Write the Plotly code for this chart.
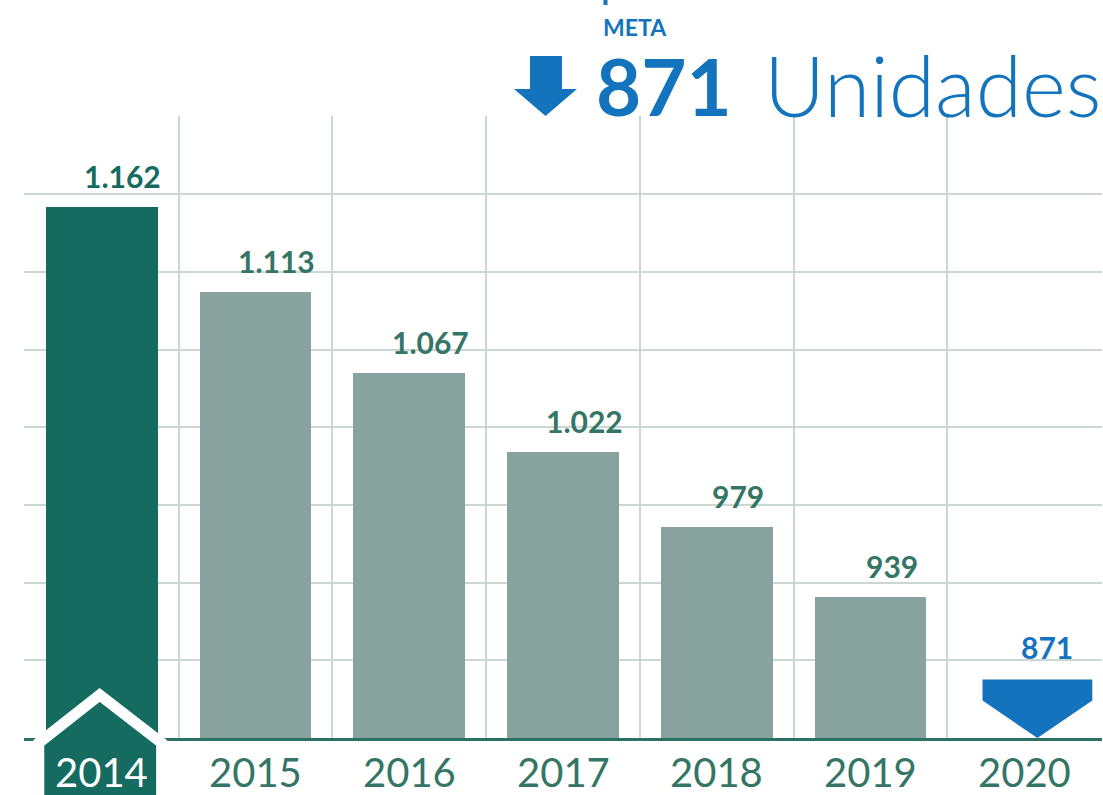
import plotly.graph_objects as go

# ---------------- data ----------------
years = ["2014", "2015", "2016", "2017", "2018", "2019", "2020"]
actual_values = [1162, 1113, 1067, 1022, 979, 939]   # 2014-2019
target_value = 871                                     # meta 2020
title_small = "META"
title_number = "871"
title_unit = "Unidades"

# ---------------- style ----------------
DARK = "#156b5f"
GRAY = "#88a39e"
LABEL = "#347566"
BLUE = "#1473bd"
GRID = "#cbd7d3"
FONT = "Lato"

W, H = 1103, 795
L, R, T, B = 24, 1, 116, 57
PW, PH = W - L - R, H - T - B

y_base = 858.6
y_step = 44.35
n_steps = 8
bar_w = 0.727


def fmt(v):
    return f"{v:,}".replace(",", ".")


def ppx(p):
    return (p - L) / PW


def ppy(p):
    return (H - B - p) / PH


fig = go.Figure()

xs = list(range(len(actual_values)))
colors = [DARK] + [GRAY] * (len(actual_values) - 1)
fig.add_trace(go.Bar(x=xs, y=actual_values, width=bar_w, marker=dict(color=colors, line=dict(width=0)),
                     hoverinfo="skip", showlegend=False))

# target marker (pentagon pointing down) for 2020
ti = len(years) - 1
off = 0.085
hw = 0.357
top = target_value + 21
mid = target_value + 9
fig.add_trace(go.Scatter(
    x=[ti + off - hw, ti + off + hw, ti + off + hw, ti + off, ti + off - hw, ti + off - hw],
    y=[top, top, mid, y_base, mid, top],
    fill="toself", fillcolor=BLUE, mode="lines", line=dict(width=0, color=BLUE),
    hoverinfo="skip", showlegend=False))

annotations = []
# value labels
for i, v in enumerate(actual_values):
    annotations.append(dict(x=i, y=v, xref="x", yref="y", text=f"<b>{fmt(v)}</b>", showarrow=False,
                            xanchor="center", yanchor="bottom", xshift=21, yshift=11,
                            font=dict(family=FONT, size=30, color=DARK if i == 0 else LABEL)))
annotations.append(dict(x=ti, y=top, xref="x", yref="y", text=f"<b>{fmt(target_value)}</b>", showarrow=False,
                        xanchor="center", yanchor="bottom", xshift=23, yshift=13,
                        font=dict(family=FONT, size=30, color=BLUE)))
# year labels
for i, yr in enumerate(years):
    annotations.append(dict(x=i, y=ppy(772), xref="x", yref="paper", text=yr, showarrow=False,
                            xanchor="center", yanchor="middle",
                            font=dict(family=FONT, size=40, color="white" if i == 0 else LABEL)))

# title
annotations.append(dict(x=ppx(601), y=ppy(27), xref="paper", yref="paper", text=f"<b>{title_small}</b>",
                        showarrow=False, xanchor="left", yanchor="middle",
                        font=dict(family=FONT, size=23, color=BLUE)))
annotations.append(dict(x=ppx(594), y=ppy(86), xref="paper", yref="paper", text=f"<b>{title_number}</b>",
                        showarrow=False, xanchor="left", yanchor="middle",
                        font=dict(family=FONT, size=78, color=BLUE)))
annotations.append(dict(x=ppx(762), y=ppy(85), xref="paper", yref="paper", text=title_unit,
                        showarrow=False, xanchor="left", yanchor="middle",
                        font=dict(family=FONT, size=84, color=BLUE, weight=300)))

shapes = []
# house-shaped label box for 2014
bot = ppy(815)
shapes.append(dict(type="path", xref="x", yref="paper", layer="above",
                   path=(f"M -0.409,{bot} L -0.409,{ppy(743)} L -0.013,{ppy(695)} "
                         f"L 0.39,{ppy(743)} L 0.39,{bot} Z"),
                   fillcolor=DARK, line=dict(color="white", width=11)))
# arrow
ax = lambda p: ppx(p)
ay = lambda p: ppy(p)
shapes.append(dict(type="path", xref="paper", yref="paper", layer="above",
                   path=(f"M {ax(530)},{ay(56)} L {ax(562)},{ay(56)} L {ax(562)},{ay(89)} L {ax(577)},{ay(89)} "
                         f"L {ax(545.5)},{ay(116)} L {ax(514)},{ay(89)} L {ax(530)},{ay(89)} Z"),
                   fillcolor=BLUE, line=dict(width=0)))
# small cut-off mark at top
shapes.append(dict(type="rect", xref="paper", yref="paper", layer="above",
                   x0=ax(603.5), x1=ax(607.5), y0=ay(5), y1=ay(0) + 0.01,
                   fillcolor=BLUE, line=dict(width=0)))

fig.update_layout(
    width=W, height=H, autosize=False,
    margin=dict(l=L, r=R, t=T, b=B, pad=0),
    paper_bgcolor="white", plot_bgcolor="white",
    bargap=0, showlegend=False,
    annotations=annotations, shapes=shapes,
    xaxis=dict(range=[-0.505, len(years) - 0.495], tickmode="array",
               tickvals=[k - 0.5 for k in range(len(years) + 1)],
               showticklabels=False, ticks="", showgrid=True, gridcolor=GRID, gridwidth=2,
               zeroline=False, showline=True, linecolor="#2d7064", linewidth=3, fixedrange=True),
    yaxis=dict(range=[y_base, y_base + n_steps * y_step + 0.3], tickmode="array",
               tickvals=[y_base + k * y_step for k in range(n_steps + 1)],
               showticklabels=False, ticks="", showgrid=True, gridcolor=GRID, gridwidth=2,
               zeroline=False, showline=False, fixedrange=True),
)

fig.write_html("out.html", config={"displayModeBar": False},
               post_script="document.body.style.margin='0';document.body.style.padding='0';"
                           "document.documentElement.style.overflow='hidden';")
